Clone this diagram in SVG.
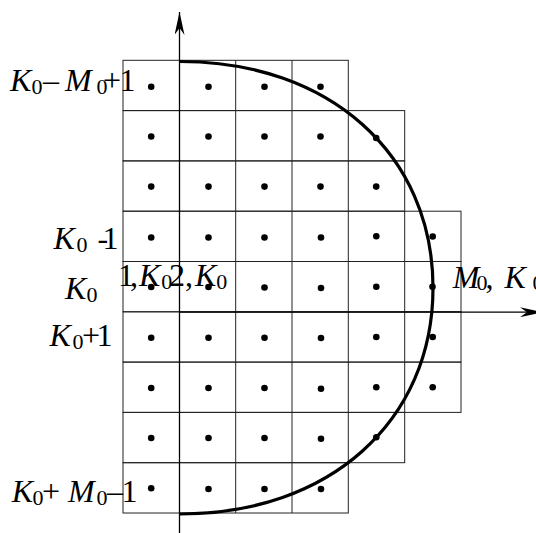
<svg xmlns="http://www.w3.org/2000/svg" width="536" height="533" viewBox="0 0 536 533">
<style>
.cell{fill:none;stroke:#222;stroke-width:1}
.dot{fill:#000}
.axis{fill:none;stroke:#000;stroke-width:1.3}
.arc{fill:none;stroke:#000;stroke-width:3.2}
text{font-family:"Liberation Serif","Times New Roman",serif;font-size:32px;fill:#000}
.it{font-style:italic}
.sub{font-size:22px}
</style>
<defs>
<marker id="ah" viewBox="0 0 23 10" refX="23" refY="5" markerWidth="23" markerHeight="10" markerUnits="userSpaceOnUse" orient="auto">
<path d="M0,0 L23,5 L0,10 L7,5 Z" fill="#000"/>
</marker>
</defs>
<g id="grid">
<rect class="cell" x="123" y="60.3" width="225.3" height="50.3"/>
<rect class="cell" x="123" y="110.6" width="281.7" height="50.3"/>
<rect class="cell" x="123" y="160.9" width="281.7" height="50.3"/>
<rect class="cell" x="123" y="211.2" width="338" height="50.3"/>
<rect class="cell" x="123" y="261.5" width="338" height="50.3"/>
<rect class="cell" x="123" y="311.8" width="338" height="50.3"/>
<rect class="cell" x="123" y="362.1" width="338" height="50.3"/>
<rect class="cell" x="123" y="412.4" width="281.7" height="50.3"/>
<rect class="cell" x="123" y="462.7" width="225.3" height="50.3"/>
<path class="cell" d="M235.7,60.3V513 M292,60.3V513 M348.3,110.6V462.7 M404.7,211.2V412.4"/>
</g>
<g id="arc">
<path class="arc" d="M180,61.5 C329.3,61.5 433,154.2 433,287.75 C433,421.3 329.3,514 180,514"/>
</g>
<g id="dots">
<g id="row0"><circle class="dot" cx="151.2" cy="86.7" r="3.3"/><circle class="dot" cx="208.5" cy="86.7" r="3.3"/><circle class="dot" cx="264.5" cy="86.7" r="3.3"/><circle class="dot" cx="320.5" cy="86.7" r="3.3"/></g>
<g id="row1"><circle class="dot" cx="151.2" cy="136.5" r="3.3"/><circle class="dot" cx="208.5" cy="136.5" r="3.3"/><circle class="dot" cx="264.5" cy="136.5" r="3.3"/><circle class="dot" cx="320.5" cy="136.5" r="3.3"/><circle class="dot" cx="376.2" cy="138" r="3.3"/></g>
<g id="row2"><circle class="dot" cx="151.2" cy="186.6" r="3.3"/><circle class="dot" cx="208.5" cy="186.6" r="3.3"/><circle class="dot" cx="264.5" cy="186.6" r="3.3"/><circle class="dot" cx="320.5" cy="186.6" r="3.3"/><circle class="dot" cx="376.2" cy="186.6" r="3.3"/></g>
<g id="row3"><circle class="dot" cx="151.2" cy="237.5" r="3.3"/><circle class="dot" cx="208.5" cy="237.5" r="3.3"/><circle class="dot" cx="264.5" cy="237.5" r="3.3"/><circle class="dot" cx="321" cy="237.5" r="3.3"/><circle class="dot" cx="376.3" cy="236.3" r="3.3"/><circle class="dot" cx="432.7" cy="236.5" r="3.3"/></g>
<g id="row4"><circle class="dot" cx="151.2" cy="287" r="3.3"/><circle class="dot" cx="208.5" cy="287" r="3.3"/><circle class="dot" cx="264.5" cy="287.5" r="3.3"/><circle class="dot" cx="321" cy="288" r="3.3"/><circle class="dot" cx="376.3" cy="286.7" r="3.3"/><circle class="dot" cx="432.5" cy="286.7" r="3.3"/></g>
<g id="row5"><circle class="dot" cx="151.2" cy="337.7" r="3.3"/><circle class="dot" cx="208.5" cy="337.7" r="3.3"/><circle class="dot" cx="264.5" cy="337.7" r="3.3"/><circle class="dot" cx="321" cy="338" r="3.3"/><circle class="dot" cx="376.3" cy="337" r="3.3"/><circle class="dot" cx="432.7" cy="337" r="3.3"/></g>
<g id="row6"><circle class="dot" cx="151.2" cy="388" r="3.3"/><circle class="dot" cx="208.5" cy="388" r="3.3"/><circle class="dot" cx="264.5" cy="388" r="3.3"/><circle class="dot" cx="321" cy="388.7" r="3.3"/><circle class="dot" cx="376.3" cy="387.3" r="3.3"/><circle class="dot" cx="432.7" cy="387.3" r="3.3"/></g>
<g id="row7"><circle class="dot" cx="151.2" cy="438" r="3.3"/><circle class="dot" cx="208.5" cy="438" r="3.3"/><circle class="dot" cx="264.5" cy="438" r="3.3"/><circle class="dot" cx="321" cy="438.7" r="3.3"/><circle class="dot" cx="376.3" cy="437.3" r="3.3"/></g>
<g id="row8"><circle class="dot" cx="151.2" cy="488.3" r="3.3"/><circle class="dot" cx="208.5" cy="489" r="3.3"/><circle class="dot" cx="264.5" cy="489" r="3.3"/><circle class="dot" cx="321" cy="489" r="3.3"/></g>
</g>
<g id="connectors">
<line class="axis" x1="179.5" y1="533" x2="179.5" y2="12" marker-end="url(#ah)"/>
<line class="axis" x1="179.5" y1="312.2" x2="543" y2="312.2" marker-end="url(#ah)"/>
</g>
<g id="labels">
<text id="lbl-top"><tspan class="it" x="10" y="90.7">K</tspan><tspan class="sub" x="31.5" y="94">0</tspan><tspan x="43" y="90.7">– </tspan><tspan class="it" x="65" y="90.7">M</tspan><tspan class="sub" x="96.5" y="94">0</tspan><tspan x="103" y="90.7">+</tspan><tspan x="119.5" y="90.7">1</tspan></text>
<text id="lbl-km1"><tspan class="it" x="53.5" y="249.3">K</tspan><tspan class="sub" x="76.5" y="252.3">0</tspan><tspan x="89.5" y="249.3"> -</tspan><tspan x="102.5" y="249.3">1</tspan></text>
<text id="lbl-k"><tspan class="it" x="65" y="299.3">K</tspan><tspan class="sub" x="86.5" y="302.3">0</tspan></text>
<text id="lbl-kp1"><tspan class="it" x="49.5" y="345.7">K</tspan><tspan class="sub" x="72.5" y="348.7">0</tspan><tspan x="82" y="345.7">+</tspan><tspan x="96.5" y="345.7">1</tspan></text>
<text id="lbl-mid"><tspan x="118" y="285.7">1</tspan><tspan x="130" y="285.7">,</tspan><tspan class="it" x="139" y="285.7">K</tspan><tspan class="sub" x="161.2" y="288.5">0</tspan><tspan x="169" y="285.7">2</tspan><tspan x="185" y="285.7">,</tspan><tspan class="it" x="195" y="285.7">K</tspan><tspan class="sub" x="216.2" y="288.5">0</tspan></text>
<text id="lbl-right"><tspan class="it" x="452.7" y="287.5">M</tspan><tspan class="sub" x="476.5" y="290.3">0</tspan><tspan x="485.5" y="287.5">, </tspan><tspan class="it" x="504.5" y="287.5">K</tspan><tspan class="sub" x="532.5" y="290.3">0</tspan></text>
<text id="lbl-bottom"><tspan class="it" x="11.7" y="501.7">K</tspan><tspan class="sub" x="32.5" y="504.7">0</tspan><tspan x="42" y="501.7">+ </tspan><tspan class="it" x="68" y="501.7">M</tspan><tspan class="sub" x="96.5" y="504.7">0</tspan><tspan x="107" y="501.7">–</tspan><tspan x="121.5" y="501.7">1</tspan></text>
</g>
</svg>
